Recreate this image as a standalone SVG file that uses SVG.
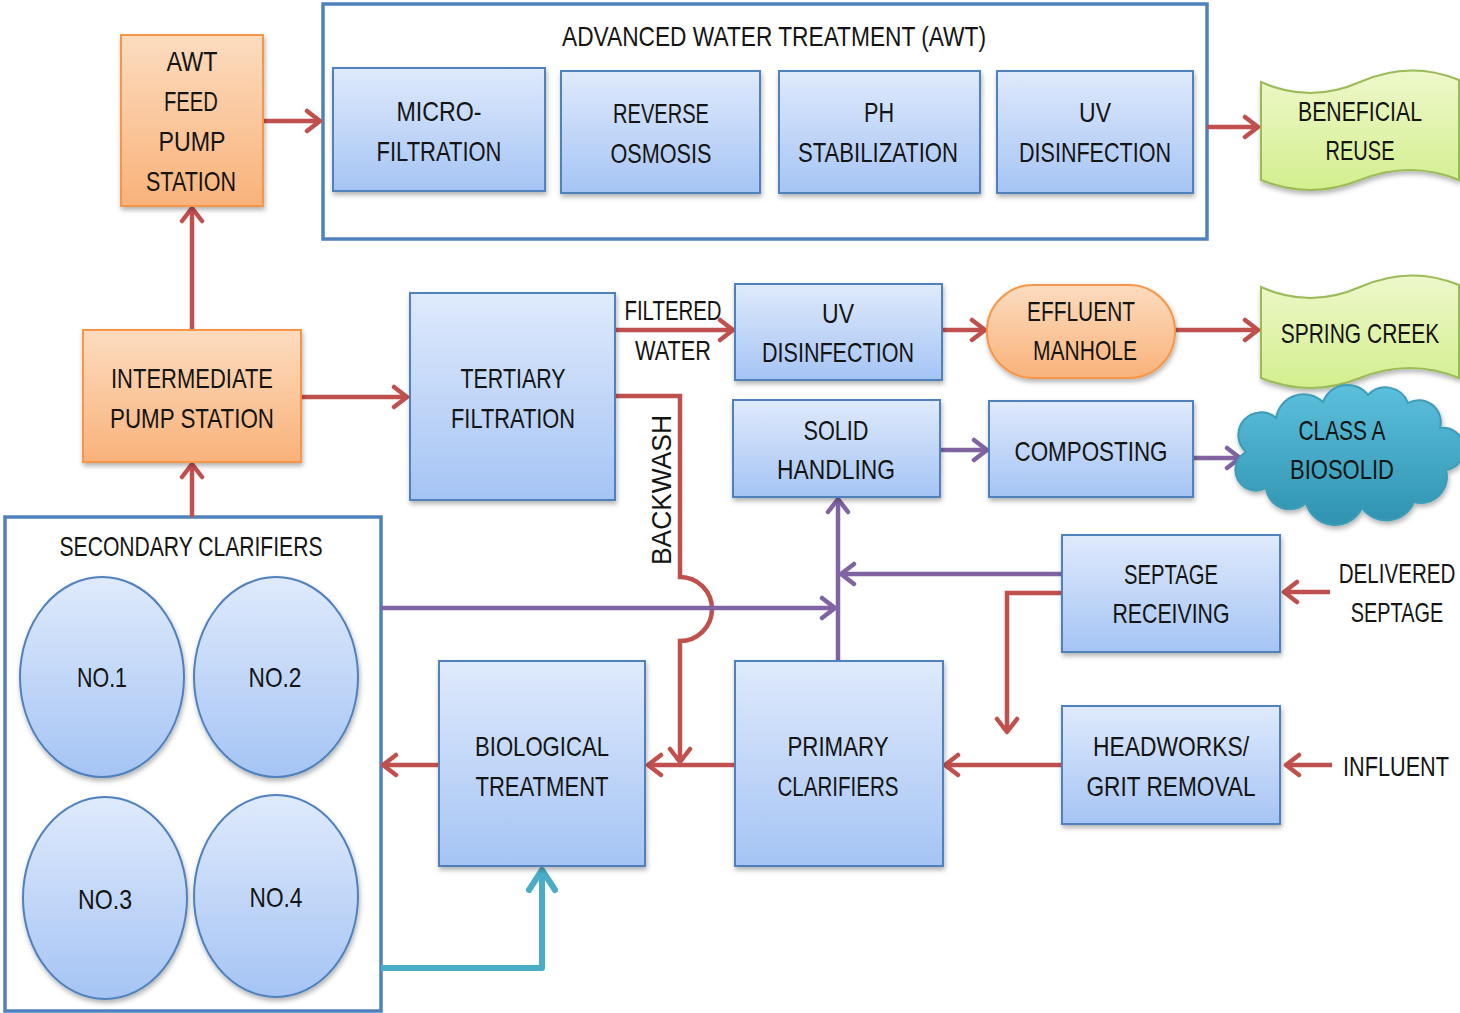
<svg xmlns="http://www.w3.org/2000/svg" width="1460" height="1013" viewBox="0 0 1460 1013">
<style>
.t{font-family:"Liberation Sans",Arial,sans-serif;font-size:28px;fill:#141414;text-anchor:middle}
.bx{fill:url(#gBlue);stroke:#4f81bd;stroke-width:2;filter:url(#sh)}
.or{fill:url(#gOr);stroke:#f79646;stroke-width:2;filter:url(#sh)}
.gr{fill:url(#gGr);stroke:#9bbb59;stroke-width:2;filter:url(#sh)}
.el{fill:url(#gBlue);stroke:#4f81bd;stroke-width:2;filter:url(#sh)}
.ct{fill:#fff;stroke:#4f81bd;stroke-width:3.5}
.r{fill:none;stroke:#c0504d;stroke-width:4.5;marker-end:url(#aR)}
.p{fill:none;stroke:#8064a2;stroke-width:4.5;marker-end:url(#aP)}
.c{fill:none;stroke:#4bacc6;stroke-width:6;marker-end:url(#aC);stroke-linejoin:round}
</style>
<defs>
<linearGradient id="gBlue" x1="0" y1="0" x2="0" y2="1"><stop offset="0" stop-color="#dfeafc"/><stop offset="1" stop-color="#a5c4f4"/></linearGradient>
<linearGradient id="gOr" x1="0" y1="0" x2="0" y2="1"><stop offset="0" stop-color="#fcdcbf"/><stop offset="1" stop-color="#f9b27a"/></linearGradient>
<linearGradient id="gGr" x1="0" y1="0" x2="0" y2="1"><stop offset="0" stop-color="#eef8cb"/><stop offset="1" stop-color="#d3ef8e"/></linearGradient>
<linearGradient id="gCl" x1="0" y1="0" x2="0" y2="1"><stop offset="0" stop-color="#5cc0dc"/><stop offset="1" stop-color="#2f93b0"/></linearGradient>
<filter id="sh" x="-10%" y="-10%" width="125%" height="130%"><feDropShadow dx="1" dy="3" stdDeviation="2.5" flood-color="#000" flood-opacity="0.3"/></filter>
<marker id="aR" viewBox="0 0 20 26" refX="17" refY="13" markerWidth="20" markerHeight="26" markerUnits="userSpaceOnUse" orient="auto"><path d="M4,3 L17,13 L4,23" fill="none" stroke="#c0504d" stroke-width="4.5" stroke-linecap="round" stroke-linejoin="round"/></marker>
<marker id="aP" viewBox="0 0 20 26" refX="17" refY="13" markerWidth="20" markerHeight="26" markerUnits="userSpaceOnUse" orient="auto"><path d="M4,3 L17,13 L4,23" fill="none" stroke="#8064a2" stroke-width="4.5" stroke-linecap="round" stroke-linejoin="round"/></marker>
<marker id="aC" viewBox="0 0 28 34" refX="25" refY="17" markerWidth="28" markerHeight="34" markerUnits="userSpaceOnUse" orient="auto"><path d="M5,4 L25,17 L5,30" fill="none" stroke="#4bacc6" stroke-width="6" stroke-linecap="round" stroke-linejoin="round"/></marker>
</defs>
<rect width="1460" height="1013" fill="#fff"/>

<g id="awt-container">
<rect class="ct" x="323" y="4" width="884" height="235"/>
<text class="t" x="774" y="46" textLength="424" lengthAdjust="spacingAndGlyphs">ADVANCED WATER TREATMENT (AWT)</text>
</g>
<g id="secondary-clarifiers">
<rect class="ct" x="5" y="517" width="376" height="494"/>
<text class="t" x="191" y="556" textLength="263" lengthAdjust="spacingAndGlyphs">SECONDARY CLARIFIERS</text>
</g>

<g id="connectors">
<path id="c-feed-awt" class="r" d="M263,121 L320,121"/>
<path id="c-awt-reuse" class="r" d="M1207,127 L1258,127"/>
<path id="c-int-feed" class="r" d="M192,330 L192,208"/>
<path id="c-sec-int" class="r" d="M192,517 L192,464"/>
<path id="c-int-tert" class="r" d="M301,397 L407,397"/>
<path id="c-tert-uv" class="r" d="M615,330 L733,330"/>
<path id="c-uv-eff" class="r" d="M942,330 L985,330"/>
<path id="c-eff-spring" class="r" d="M1175,330 L1258,330"/>
<path id="c-backwash" class="r" d="M615,396 L680,396 L680,577 A32,32 0 0 1 680,641 L680,762"/>
<path id="c-prim-bio" class="r" d="M735,765 L648,765"/>
<path id="c-bio-sec" class="r" d="M439,765 L383,765"/>
<path id="c-head-prim" class="r" d="M1062,765 L945,765"/>
<path id="c-sept-head" class="r" d="M1062,593 L1007,593 L1007,732"/>
<path id="c-deliv" class="r" d="M1330,592 L1284,592"/>
<path id="c-infl" class="r" d="M1332,765 L1286,765"/>
<path id="c-sec-solid" class="p" d="M381,608 L835,608"/>
<path id="c-prim-solid" class="p" d="M838,661 L838,499"/>
<path id="c-sept-solid" class="p" d="M1062,574 L841,574"/>
<path id="c-solid-comp" class="p" d="M940,450 L987,450"/>
<path id="c-comp-bio" class="p" d="M1193,458 L1240,458"/>
<path id="c-sec-biol" class="c" d="M381,968 L542,968 L542,870"/>
</g>

<g id="awt-feed"><rect class="or" x="121" y="35" width="142" height="171"/>
<text class="t" x="192" y="71" textLength="51" lengthAdjust="spacingAndGlyphs">AWT</text>
<text class="t" x="191" y="111" textLength="54" lengthAdjust="spacingAndGlyphs">FEED</text>
<text class="t" x="192" y="151" textLength="67" lengthAdjust="spacingAndGlyphs">PUMP</text>
<text class="t" x="191" y="191" textLength="90" lengthAdjust="spacingAndGlyphs">STATION</text></g>

<g id="microfiltration"><rect class="bx" x="333" y="68" width="212" height="123"/>
<text class="t" x="439" y="121" textLength="85" lengthAdjust="spacingAndGlyphs">MICRO-</text>
<text class="t" x="439" y="161" textLength="125" lengthAdjust="spacingAndGlyphs">FILTRATION</text></g>
<g id="reverse-osmosis"><rect class="bx" x="561" y="71" width="199" height="122"/>
<text class="t" x="661" y="123" textLength="96" lengthAdjust="spacingAndGlyphs">REVERSE</text>
<text class="t" x="661" y="163" textLength="101" lengthAdjust="spacingAndGlyphs">OSMOSIS</text></g>
<g id="ph-stabilization"><rect class="bx" x="779" y="71" width="201" height="122"/>
<text class="t" x="879" y="122" textLength="30" lengthAdjust="spacingAndGlyphs">PH</text>
<text class="t" x="878" y="162" textLength="160" lengthAdjust="spacingAndGlyphs">STABILIZATION</text></g>
<g id="uv-awt"><rect class="bx" x="997" y="71" width="196" height="122"/>
<text class="t" x="1095" y="122" textLength="32" lengthAdjust="spacingAndGlyphs">UV</text>
<text class="t" x="1095" y="162" textLength="152" lengthAdjust="spacingAndGlyphs">DISINFECTION</text></g>

<g id="beneficial-reuse"><path class="gr" d="M1261,82 Q1310,104 1360,82 Q1410,60 1459,80 L1459,180 Q1410,160 1360,180 Q1310,200 1261,180 Z"/>
<text class="t" x="1360" y="121" textLength="124" lengthAdjust="spacingAndGlyphs">BENEFICIAL</text>
<text class="t" x="1360" y="160" textLength="69" lengthAdjust="spacingAndGlyphs">REUSE</text></g>

<g id="intermediate-pump"><rect class="or" x="83" y="330" width="218" height="132"/>
<text class="t" x="192" y="388" textLength="162" lengthAdjust="spacingAndGlyphs">INTERMEDIATE</text>
<text class="t" x="192" y="428" textLength="164" lengthAdjust="spacingAndGlyphs">PUMP STATION</text></g>

<g id="tertiary-filtration"><rect class="bx" x="410" y="293" width="205" height="207"/>
<text class="t" x="513" y="388" textLength="105" lengthAdjust="spacingAndGlyphs">TERTIARY</text>
<text class="t" x="513" y="428" textLength="124" lengthAdjust="spacingAndGlyphs">FILTRATION</text></g>

<g id="labels">
<text class="t" x="673" y="320" textLength="97" lengthAdjust="spacingAndGlyphs">FILTERED</text>
<text class="t" x="673" y="360" textLength="76" lengthAdjust="spacingAndGlyphs">WATER</text>
<text class="t" transform="translate(671,490) rotate(-90)" x="0" y="0" textLength="150" lengthAdjust="spacingAndGlyphs">BACKWASH</text>
<text class="t" transform="translate(1397,583) scale(0.735,1)" x="0" y="0">DELIVERED</text>
<text class="t" transform="translate(1397,622) scale(0.71,1)" x="0" y="0">SEPTAGE</text>
<text class="t" transform="translate(1396,776) scale(0.775,1)" x="0" y="0">INFLUENT</text>
</g>

<g id="uv-disinfection"><rect class="bx" x="735" y="284" width="207" height="96"/>
<text class="t" x="838" y="323" textLength="32" lengthAdjust="spacingAndGlyphs">UV</text>
<text class="t" x="838" y="362" textLength="152" lengthAdjust="spacingAndGlyphs">DISINFECTION</text></g>

<g id="effluent-manhole"><rect class="or" x="987" y="285" width="188" height="93" rx="46" ry="46"/>
<text class="t" x="1081" y="321" textLength="108" lengthAdjust="spacingAndGlyphs">EFFLUENT</text>
<text class="t" x="1085" y="360" textLength="104" lengthAdjust="spacingAndGlyphs">MANHOLE</text></g>

<g id="spring-creek"><path class="gr" d="M1261,287 Q1310,309 1360,287 Q1410,265 1459,285 L1459,378 Q1410,358 1360,378 Q1310,398 1261,378 Z"/>
<text class="t" transform="translate(1360,343) scale(0.75,1)" x="0" y="0">SPRING CREEK</text></g>

<g id="solid-handling"><rect class="bx" x="733" y="400" width="207" height="97"/>
<text class="t" x="836" y="440" textLength="65" lengthAdjust="spacingAndGlyphs">SOLID</text>
<text class="t" x="836" y="479" textLength="118" lengthAdjust="spacingAndGlyphs">HANDLING</text></g>

<g id="composting"><rect class="bx" x="989" y="401" width="204" height="96"/>
<text class="t" x="1091" y="461" textLength="153" lengthAdjust="spacingAndGlyphs">COMPOSTING</text></g>

<g id="class-a-biosolid"><path d="M1246,452 A22,22 0 0 1 1276,418 A28,28 0 0 1 1323,402 A26,26 0 0 1 1368,395 A24,24 0 0 1 1408,403 A22,22 0 0 1 1440,428 A20,20 0 0 1 1446,470 A26,26 0 0 1 1414,502 A30,30 0 0 1 1362,508 A30,30 0 0 1 1306,503 A24,24 0 0 1 1266,488 A20,20 0 0 1 1246,452 Z" fill="url(#gCl)" stroke="#3d9cb8" stroke-width="2" filter="url(#sh)"/>
<text class="t" x="1342" y="440" textLength="87" lengthAdjust="spacingAndGlyphs">CLASS A</text>
<text class="t" x="1342" y="479" textLength="104" lengthAdjust="spacingAndGlyphs">BIOSOLID</text></g>

<g id="septage-receiving"><rect class="bx" x="1062" y="535" width="218" height="117"/>
<text class="t" x="1171" y="584" textLength="94" lengthAdjust="spacingAndGlyphs">SEPTAGE</text>
<text class="t" x="1171" y="623" textLength="117" lengthAdjust="spacingAndGlyphs">RECEIVING</text></g>

<g id="headworks"><rect class="bx" x="1062" y="706" width="218" height="118"/>
<text class="t" x="1171" y="756" textLength="156" lengthAdjust="spacingAndGlyphs">HEADWORKS/</text>
<text class="t" x="1171" y="796" textLength="169" lengthAdjust="spacingAndGlyphs">GRIT REMOVAL</text></g>

<g id="primary-clarifiers"><rect class="bx" x="735" y="661" width="208" height="205"/>
<text class="t" x="838" y="756" textLength="101" lengthAdjust="spacingAndGlyphs">PRIMARY</text>
<text class="t" x="838" y="796" textLength="121" lengthAdjust="spacingAndGlyphs">CLARIFIERS</text></g>

<g id="biological-treatment"><rect class="bx" x="439" y="661" width="206" height="205"/>
<text class="t" x="542" y="756" textLength="134" lengthAdjust="spacingAndGlyphs">BIOLOGICAL</text>
<text class="t" x="542" y="796" textLength="133" lengthAdjust="spacingAndGlyphs">TREATMENT</text></g>

<g id="clarifier-1"><ellipse class="el" cx="102" cy="677" rx="82" ry="100"/>
<text class="t" x="102" y="687" textLength="50" lengthAdjust="spacingAndGlyphs">NO.1</text></g>
<g id="clarifier-2"><ellipse class="el" cx="276" cy="677" rx="82" ry="100"/>
<text class="t" x="275" y="687" textLength="53" lengthAdjust="spacingAndGlyphs">NO.2</text></g>
<g id="clarifier-3"><ellipse class="el" cx="105" cy="898" rx="82" ry="101"/>
<text class="t" x="105" y="909" textLength="54" lengthAdjust="spacingAndGlyphs">NO.3</text></g>
<g id="clarifier-4"><ellipse class="el" cx="276" cy="896" rx="82" ry="101"/>
<text class="t" x="276" y="907" textLength="53" lengthAdjust="spacingAndGlyphs">NO.4</text></g>
</svg>
